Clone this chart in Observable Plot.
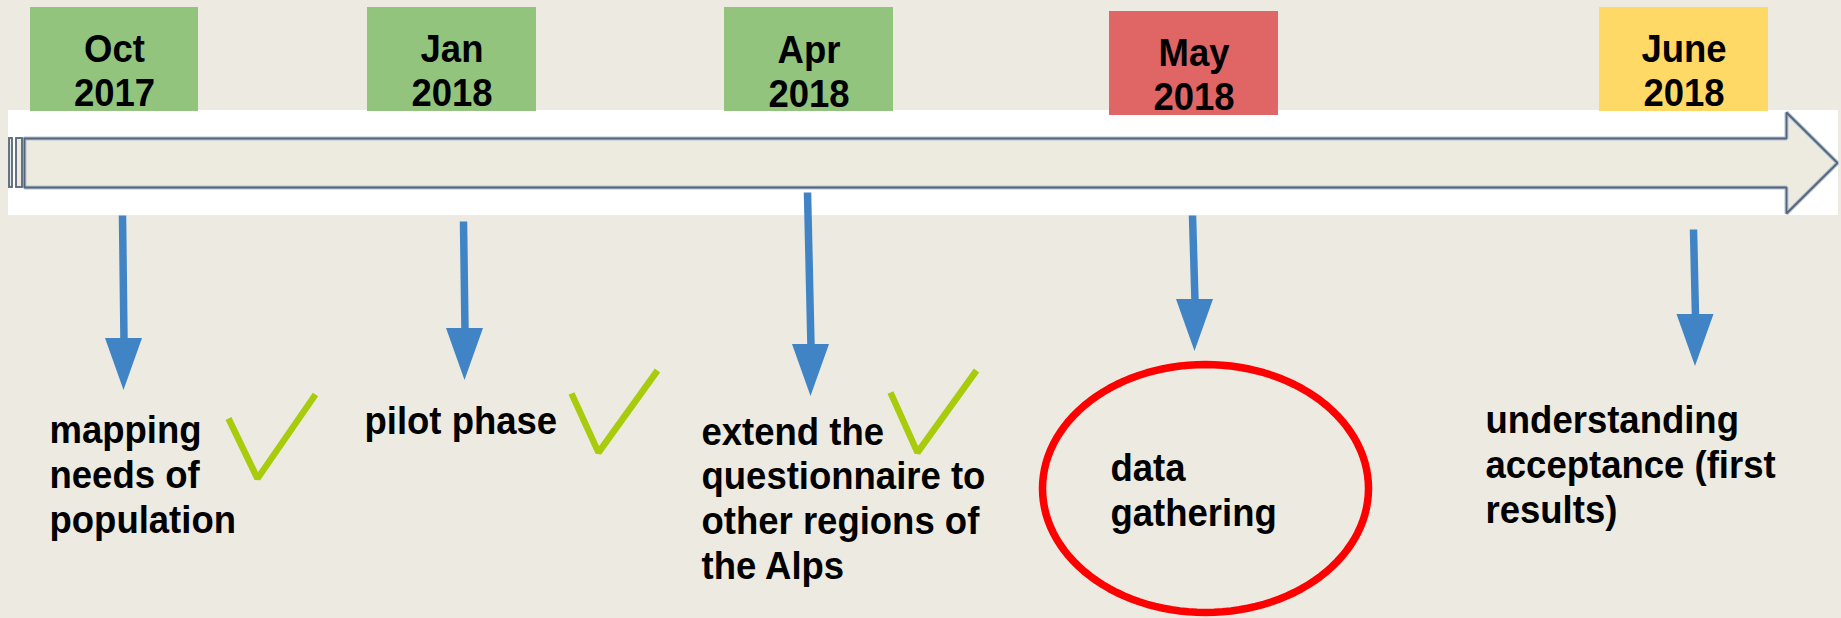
<!DOCTYPE html>
<html>
<head>
<meta charset="utf-8">
<script src="https://cdn.jsdelivr.net/npm/d3@7"></script>
<script src="https://cdn.jsdelivr.net/npm/@observablehq/plot@0.6"></script>
<style>
  html, body { margin: 0; padding: 0; background: #EDEBE1; }
  #chart svg { display: block; }
</style>
</head>
<body>
<div id="chart"></div>
<script>
// ---------- DATA ----------
const months = ["Oct", "Jan", "Apr", "May", "June"];
const years = ["2017", "2018", "2018", "2018", "2018"];
const phaseStatus = ["done", "done", "done", "current", "upcoming"];
const tasks = [
  "mapping\nneeds of\npopulation",
  "pilot phase",
  "extend the\nquestionnaire to\nother regions of\nthe Alps",
  "data\ngathering",
  "understanding\nacceptance (first\nresults)"
];
const completed = [true, true, true, false, false];
const inProgress = [false, false, false, true, false];

// ---------- LAYOUT (pixel positions of the diagram) ----------
const W = 1841, H = 618;
const boxLeft   = [30, 367, 724, 1109, 1599];
const boxRight  = [198, 536, 893, 1278, 1768];
const boxTop    = [7, 7, 7, 11, 7];
const boxBottom = [111, 111, 111, 115, 111];
const boxBaseline = [105, 105, 106, 109, 105];

const shaftX1 = [122, 463, 807, 1192, 1693];
const shaftY1 = [215, 221, 192, 215, 229];
const headX   = [123.5, 464.5, 810.5, 1194.5, 1695];
const headBase = [338, 328, 344, 299, 314];
const headTip  = [390, 380, 396, 351, 366];
const headHalf = 18.5;

const labelX = [49, 364, 701, 1110, 1485];
const labelBaseline = [532, 433, 578, 525, 522];

const checkPts = [
  [[228, 418], [257, 478], [315, 394]],
  [[571, 393], [598, 452], [657, 370]],
  [[890, 392], [917, 452], [976, 370]]
];

const band = {x1: 8, x2: 1838, y1: 110, y2: 215};
const shaftTop = 138, shaftBot = 187, shaftLeft = 24, headStart = 1786, headTopY = 112, headBotY = 213, tipX = 1837;
const ellipse = {cx: 1205, cy: 488, rx: 163, ry: 124};
const textStretch = 1.06;

// ---------- derived tables ----------
const phases = months.map((m, i) => ({
  month: m, year: years[i], status: phaseStatus[i], task: tasks[i],
  done: completed[i], current: inProgress[i],
  x1: boxLeft[i], x2: boxRight[i], y1: boxTop[i], y2: boxBottom[i],
  cx: (boxLeft[i] + boxRight[i]) / 2, by: boxBaseline[i],
  sx1: shaftX1[i], sy1: shaftY1[i], hx: headX[i], hb: headBase[i], ht: headTip[i],
  lx: labelX[i], ly: labelBaseline[i]
}));

const heads = phases.flatMap((p, i) => [
  {id: i, x: p.hx - headHalf, y1: p.hb, y2: p.hb},
  {id: i, x: p.hx, y1: p.hb, y2: p.ht},
  {id: i, x: p.hx + headHalf, y1: p.hb, y2: p.hb}
]);

const doneIdx = phases.map((p, i) => p.done ? i : -1).filter(i => i >= 0);
const checks = doneIdx.flatMap((idx, k) => checkPts[k].map(([x, y]) => ({id: idx, x, y})));

const arrowArea = [
  {x: shaftLeft, y1: shaftTop, y2: shaftBot},
  {x: headStart, y1: shaftTop, y2: shaftBot},
  {x: headStart, y1: headTopY, y2: headBotY},
  {x: tipX, y1: (shaftTop + shaftBot) / 2, y2: (shaftTop + shaftBot) / 2}
];
const arrowOutline = [
  [shaftLeft, shaftTop], [headStart, shaftTop], [headStart, headTopY], [tipX, (shaftTop + shaftBot) / 2],
  [headStart, headBotY], [headStart, shaftBot], [shaftLeft, shaftBot], [shaftLeft, shaftTop]
].map(([x, y]) => ({x, y}));
const endBars = [{x1: 9, x2: 12}, {x1: 16, x2: 22}];

const circled = phases.filter(p => p.current);
const ellipsePts = circled.flatMap((p, k) => d3.range(0, 121).map(j => {
  const t = j / 120 * 2 * Math.PI;
  return {id: k, x: ellipse.cx + ellipse.rx * Math.cos(t), y: ellipse.cy + ellipse.ry * Math.sin(t)};
}));

const font = "'Liberation Sans', Arial, Helvetica, sans-serif";

const chart = Plot.plot({
  width: W, height: H,
  margin: 0,
  style: {background: "#EDEBE1", fontFamily: font},
  x: {domain: [0, W], range: [0, W], axis: null},
  y: {domain: [0, H], range: [0, H], axis: null},
  color: {domain: ["done", "current", "upcoming"], range: ["#93C47D", "#E06666", "#FFD966"]},
  marks: [
    // white band behind the timeline arrow
    Plot.rect([band], {x1: "x1", x2: "x2", y1: "y1", y2: "y2", fill: "#FEFFFE"}),
    // big block arrow
    Plot.area(arrowArea, {x1: "x", y1: "y1", y2: "y2", fill: "#EDEBE0", curve: "linear"}),
    Plot.line(arrowOutline, {x: "x", y: "y", stroke: "#B4C2D2", strokeWidth: 4, strokeLinejoin: "miter"}),
    Plot.line(arrowOutline, {x: "x", y: "y", stroke: "#56657A", strokeWidth: 1.8, strokeLinejoin: "miter"}),
    Plot.rect(endBars, {x1: "x1", x2: "x2", y1: shaftTop, y2: shaftBot, fill: "#EDEBE0", stroke: "#56657A", strokeWidth: 1.8}),
    // date boxes
    Plot.rect(phases, {x1: "x1", x2: "x2", y1: "y1", y2: "y2", fill: "status"}),
    Plot.text(phases, {
      x: "cx", y: "by", text: d => `${d.month}\n${d.year}`,
      lineAnchor: "bottom", lineHeight: 1.2 / textStretch, fontSize: 36.5, fontWeight: "bold", fill: "black", fontFamily: font
    }),
    // blue down arrows
    Plot.link(phases, {x1: "sx1", y1: "sy1", x2: "hx", y2: d => d.hb + 2, stroke: "#4084C6", strokeWidth: 7.5}),
    Plot.area(heads, {x1: "x", y1: "y1", y2: "y2", z: "id", fill: "#4084C6", curve: "linear"}),
    // task labels
    Plot.text(phases, {
      x: "lx", y: "ly", text: "task", textAnchor: "start",
      lineAnchor: "bottom", lineHeight: 1.22 / textStretch, fontSize: 36.5, fontWeight: "bold", fill: "black", fontFamily: font
    }),
    // check marks for completed phases
    Plot.line(checks, {x: "x", y: "y", z: "id", stroke: "#A8CB0C", strokeWidth: 6.5, strokeLinejoin: "miter", strokeLinecap: "butt"}),
    // red circle around the current phase
    Plot.line(ellipsePts, {x: "x", y: "y", z: "id", stroke: "#FF0000", strokeWidth: 7.5, curve: "linear-closed"})
  ]
});
// slightly taller glyphs, as in the original slide font
chart.querySelectorAll('g[aria-label="text"] text').forEach(t => {
  const tr = t.getAttribute("transform") || "";
  t.setAttribute("transform", `${tr} scale(1,${textStretch})`);
});
document.getElementById("chart").appendChild(chart);
</script>
</body>
</html>
